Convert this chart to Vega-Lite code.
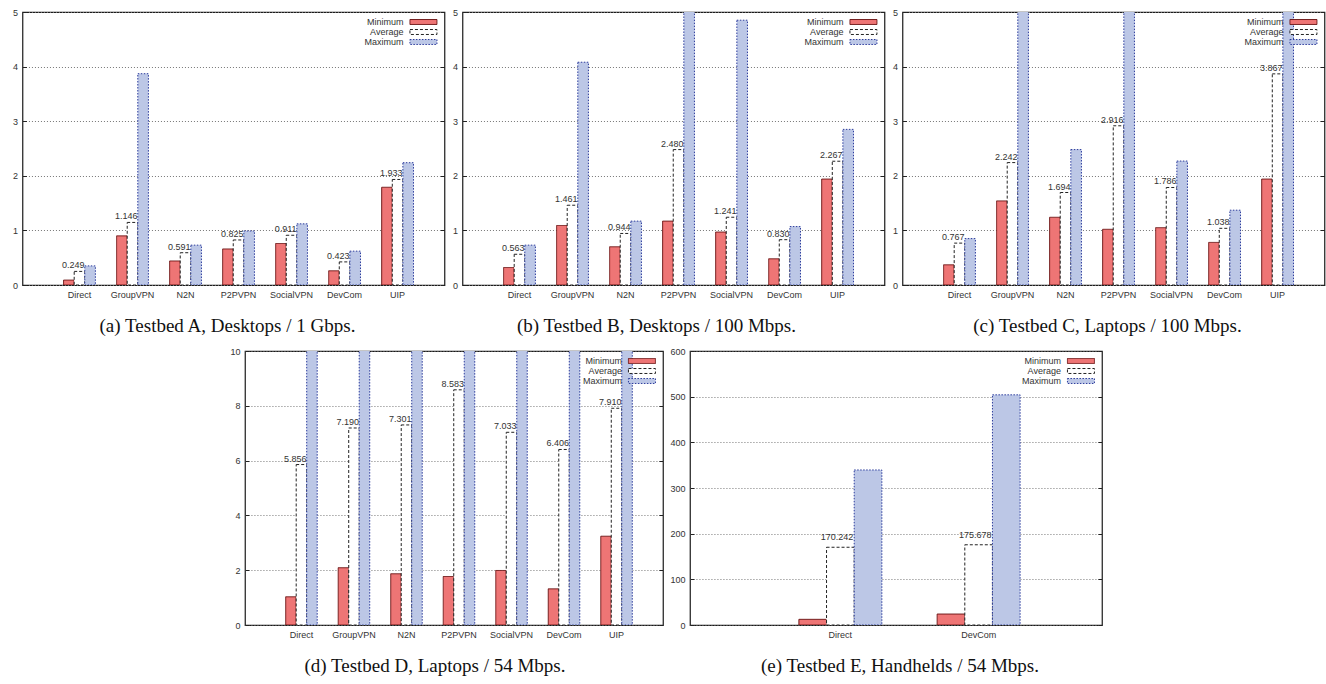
{
  "$schema": "https://vega.github.io/schema/vega-lite/v6.json",
  "padding": {"left": 11, "top": 7, "right": 0, "bottom": 0},
  "background": "white",
  "config": {
    "font": "Liberation Sans",
    "view": {"stroke": "#1a1a1a", "strokeWidth": 1.2},
    "axis": {"labelFont": "Liberation Sans", "labelFontSize": 9, "labelColor": "#333"},
    "axisY": {"grid": true, "gridDash": [1, 2], "gridColor": "#777", "gridOpacity": 1, "domain": false, "tickSize": -4, "tickColor": "#222", "labelPadding": 9},
    "axisX": {"grid": false, "ticks": false, "domain": false, "labelAngle": 0, "labelPadding": 5},
    "legend": {"orient": "top-right", "title": null, "labelFont": "Liberation Sans", "labelFontSize": 9, "labelColor": "#333", "labelAlign": "right", "labelOffset": -25, "symbolType": "M-3,-0.55H3V0.55H-3Z", "symbolSize": 81, "symbolStrokeWidth": 1, "rowPadding": 0, "offset": 5, "padding": 0},
    "title": {"orient": "bottom", "frame": "group", "anchor": "middle", "font": "Liberation Serif", "fontSize": 19, "fontWeight": "normal", "color": "#111", "offset": 18}
  },
  "datasets": {
    "a": [
      {"system": "Direct", "series": "Minimum", "value": 0.09}, {"system": "Direct", "series": "Average", "value": 0.249}, {"system": "Direct", "series": "Maximum", "value": 0.35},
      {"system": "GroupVPN", "series": "Minimum", "value": 0.90}, {"system": "GroupVPN", "series": "Average", "value": 1.146}, {"system": "GroupVPN", "series": "Maximum", "value": 3.87},
      {"system": "N2N", "series": "Minimum", "value": 0.44}, {"system": "N2N", "series": "Average", "value": 0.591}, {"system": "N2N", "series": "Maximum", "value": 0.73},
      {"system": "P2PVPN", "series": "Minimum", "value": 0.66}, {"system": "P2PVPN", "series": "Average", "value": 0.825}, {"system": "P2PVPN", "series": "Maximum", "value": 0.99},
      {"system": "SocialVPN", "series": "Minimum", "value": 0.76}, {"system": "SocialVPN", "series": "Average", "value": 0.911}, {"system": "SocialVPN", "series": "Maximum", "value": 1.12},
      {"system": "DevCom", "series": "Minimum", "value": 0.26}, {"system": "DevCom", "series": "Average", "value": 0.423}, {"system": "DevCom", "series": "Maximum", "value": 0.62},
      {"system": "UIP", "series": "Minimum", "value": 1.79}, {"system": "UIP", "series": "Average", "value": 1.933}, {"system": "UIP", "series": "Maximum", "value": 2.24}
    ],
    "b": [
      {"system": "Direct", "series": "Minimum", "value": 0.32}, {"system": "Direct", "series": "Average", "value": 0.563}, {"system": "Direct", "series": "Maximum", "value": 0.73},
      {"system": "GroupVPN", "series": "Minimum", "value": 1.09}, {"system": "GroupVPN", "series": "Average", "value": 1.461}, {"system": "GroupVPN", "series": "Maximum", "value": 4.08},
      {"system": "N2N", "series": "Minimum", "value": 0.70}, {"system": "N2N", "series": "Average", "value": 0.944}, {"system": "N2N", "series": "Maximum", "value": 1.17},
      {"system": "P2PVPN", "series": "Minimum", "value": 1.17}, {"system": "P2PVPN", "series": "Average", "value": 2.480}, {"system": "P2PVPN", "series": "Maximum", "value": 5.6},
      {"system": "SocialVPN", "series": "Minimum", "value": 0.97}, {"system": "SocialVPN", "series": "Average", "value": 1.241}, {"system": "SocialVPN", "series": "Maximum", "value": 4.85},
      {"system": "DevCom", "series": "Minimum", "value": 0.48}, {"system": "DevCom", "series": "Average", "value": 0.830}, {"system": "DevCom", "series": "Maximum", "value": 1.07},
      {"system": "UIP", "series": "Minimum", "value": 1.94}, {"system": "UIP", "series": "Average", "value": 2.267}, {"system": "UIP", "series": "Maximum", "value": 2.85}
    ],
    "c": [
      {"system": "Direct", "series": "Minimum", "value": 0.37}, {"system": "Direct", "series": "Average", "value": 0.767}, {"system": "Direct", "series": "Maximum", "value": 0.85},
      {"system": "GroupVPN", "series": "Minimum", "value": 1.54}, {"system": "GroupVPN", "series": "Average", "value": 2.242}, {"system": "GroupVPN", "series": "Maximum", "value": 5.6},
      {"system": "N2N", "series": "Minimum", "value": 1.24}, {"system": "N2N", "series": "Average", "value": 1.694}, {"system": "N2N", "series": "Maximum", "value": 2.48},
      {"system": "P2PVPN", "series": "Minimum", "value": 1.02}, {"system": "P2PVPN", "series": "Average", "value": 2.916}, {"system": "P2PVPN", "series": "Maximum", "value": 5.6},
      {"system": "SocialVPN", "series": "Minimum", "value": 1.05}, {"system": "SocialVPN", "series": "Average", "value": 1.786}, {"system": "SocialVPN", "series": "Maximum", "value": 2.27},
      {"system": "DevCom", "series": "Minimum", "value": 0.78}, {"system": "DevCom", "series": "Average", "value": 1.038}, {"system": "DevCom", "series": "Maximum", "value": 1.37},
      {"system": "UIP", "series": "Minimum", "value": 1.94}, {"system": "UIP", "series": "Average", "value": 3.867}, {"system": "UIP", "series": "Maximum", "value": 5.6}
    ],
    "d": [
      {"system": "Direct", "series": "Minimum", "value": 1.03}, {"system": "Direct", "series": "Average", "value": 5.856}, {"system": "Direct", "series": "Maximum", "value": 11},
      {"system": "GroupVPN", "series": "Minimum", "value": 2.09}, {"system": "GroupVPN", "series": "Average", "value": 7.190}, {"system": "GroupVPN", "series": "Maximum", "value": 11},
      {"system": "N2N", "series": "Minimum", "value": 1.87}, {"system": "N2N", "series": "Average", "value": 7.301}, {"system": "N2N", "series": "Maximum", "value": 11},
      {"system": "P2PVPN", "series": "Minimum", "value": 1.77}, {"system": "P2PVPN", "series": "Average", "value": 8.583}, {"system": "P2PVPN", "series": "Maximum", "value": 11},
      {"system": "SocialVPN", "series": "Minimum", "value": 1.99}, {"system": "SocialVPN", "series": "Average", "value": 7.033}, {"system": "SocialVPN", "series": "Maximum", "value": 11},
      {"system": "DevCom", "series": "Minimum", "value": 1.32}, {"system": "DevCom", "series": "Average", "value": 6.406}, {"system": "DevCom", "series": "Maximum", "value": 11},
      {"system": "UIP", "series": "Minimum", "value": 3.24}, {"system": "UIP", "series": "Average", "value": 7.910}, {"system": "UIP", "series": "Maximum", "value": 11}
    ],
    "e": [
      {"system": "Direct", "series": "Minimum", "value": 12.4}, {"system": "Direct", "series": "Average", "value": 170.242}, {"system": "Direct", "series": "Maximum", "value": 339.5},
      {"system": "DevCom", "series": "Minimum", "value": 24}, {"system": "DevCom", "series": "Average", "value": 175.678}, {"system": "DevCom", "series": "Maximum", "value": 504}
    ]
  },
  "resolve": {"scale": {"xOffset": "independent", "fill": "independent", "stroke": "independent", "strokeDash": "independent"}, "legend": {"fill": "independent", "stroke": "independent", "strokeDash": "independent"}},
  "bounds": "full",
  "center": true,
  "spacing": 9,
  "vconcat": [
    {
      "hconcat": [
        {
          "width": 422, "height": 273,
          "title": {"text": "(a) Testbed A, Desktops / 1 Gbps.", "dx": -6},
          "data": {"name": "a"},
          "encoding": {"x": {"field": "system", "type": "nominal", "sort": null, "title": null, "scale": {"paddingInner": 0, "paddingOuter": 0.48, "align": 0.6}}},
          "layer": [
            {"mark": {"type": "bar", "clip": true, "strokeWidth": 1},
             "encoding": {
               "xOffset": {"field": "series", "type": "nominal", "scale": {"domain": ["Minimum", "Average", "Maximum"], "paddingInner": 0, "paddingOuter": 1}},
               "y": {"field": "value", "type": "quantitative", "title": null, "scale": {"domain": [0, 5], "nice": false}, "axis": {"values": [0, 1, 2, 3, 4, 5]}},
               "fill": {"field": "series", "type": "nominal", "scale": {"domain": ["Minimum", "Average", "Maximum"], "range": ["#ee7575", "#ffffff", "#bcc7e6"]}},
               "stroke": {"field": "series", "type": "nominal", "scale": {"domain": ["Minimum", "Average", "Maximum"], "range": ["#6b1414", "#222222", "#2b3b9c"]}},
               "strokeDash": {"field": "series", "type": "nominal", "scale": {"domain": ["Minimum", "Average", "Maximum"], "range": [[1, 0], [3, 2], [1.5, 1.5]]}}
             }},
            {"transform": [{"filter": "datum.series === 'Average'"}],
             "mark": {"type": "text", "align": "right", "baseline": "bottom", "dx": 5, "dy": -1, "fontSize": 9, "color": "#333"},
             "encoding": {
               "xOffset": {"field": "series", "type": "nominal", "scale": {"domain": ["Minimum", "Average", "Maximum"], "paddingInner": 0, "paddingOuter": 1}},
               "y": {"field": "value", "type": "quantitative", "title": null, "axis": {"orient": "right", "labels": false, "grid": false, "values": [0, 1, 2, 3, 4, 5]}},
               "text": {"field": "value", "type": "quantitative", "format": ".3f"}
             }}
          ],
          "resolve": {"axis": {"y": "independent"}}
        },
        {
          "width": 422, "height": 273,
          "title": {"text": "(b) Testbed B, Desktops / 100 Mbps.", "dx": -17},
          "data": {"name": "b"},
          "encoding": {"x": {"field": "system", "type": "nominal", "sort": null, "title": null, "scale": {"paddingInner": 0, "paddingOuter": 0.48, "align": 0.6}}},
          "layer": [
            {"mark": {"type": "bar", "clip": true, "strokeWidth": 1},
             "encoding": {
               "xOffset": {"field": "series", "type": "nominal", "scale": {"domain": ["Minimum", "Average", "Maximum"], "paddingInner": 0, "paddingOuter": 1}},
               "y": {"field": "value", "type": "quantitative", "title": null, "scale": {"domain": [0, 5], "nice": false}, "axis": {"values": [0, 1, 2, 3, 4, 5]}},
               "fill": {"field": "series", "type": "nominal", "scale": {"domain": ["Minimum", "Average", "Maximum"], "range": ["#ee7575", "#ffffff", "#bcc7e6"]}},
               "stroke": {"field": "series", "type": "nominal", "scale": {"domain": ["Minimum", "Average", "Maximum"], "range": ["#6b1414", "#222222", "#2b3b9c"]}},
               "strokeDash": {"field": "series", "type": "nominal", "scale": {"domain": ["Minimum", "Average", "Maximum"], "range": [[1, 0], [3, 2], [1.5, 1.5]]}}
             }},
            {"transform": [{"filter": "datum.series === 'Average'"}],
             "mark": {"type": "text", "align": "right", "baseline": "bottom", "dx": 5, "dy": -1, "fontSize": 9, "color": "#333"},
             "encoding": {
               "xOffset": {"field": "series", "type": "nominal", "scale": {"domain": ["Minimum", "Average", "Maximum"], "paddingInner": 0, "paddingOuter": 1}},
               "y": {"field": "value", "type": "quantitative", "title": null, "axis": {"orient": "right", "labels": false, "grid": false, "values": [0, 1, 2, 3, 4, 5]}},
               "text": {"field": "value", "type": "quantitative", "format": ".3f"}
             }}
          ],
          "resolve": {"axis": {"y": "independent"}}
        },
        {
          "width": 422, "height": 273,
          "title": {"text": "(c) Testbed C, Laptops / 100 Mbps.", "dx": -6},
          "data": {"name": "c"},
          "encoding": {"x": {"field": "system", "type": "nominal", "sort": null, "title": null, "scale": {"paddingInner": 0, "paddingOuter": 0.48, "align": 0.6}}},
          "layer": [
            {"mark": {"type": "bar", "clip": true, "strokeWidth": 1},
             "encoding": {
               "xOffset": {"field": "series", "type": "nominal", "scale": {"domain": ["Minimum", "Average", "Maximum"], "paddingInner": 0, "paddingOuter": 1}},
               "y": {"field": "value", "type": "quantitative", "title": null, "scale": {"domain": [0, 5], "nice": false}, "axis": {"values": [0, 1, 2, 3, 4, 5]}},
               "fill": {"field": "series", "type": "nominal", "scale": {"domain": ["Minimum", "Average", "Maximum"], "range": ["#ee7575", "#ffffff", "#bcc7e6"]}},
               "stroke": {"field": "series", "type": "nominal", "scale": {"domain": ["Minimum", "Average", "Maximum"], "range": ["#6b1414", "#222222", "#2b3b9c"]}},
               "strokeDash": {"field": "series", "type": "nominal", "scale": {"domain": ["Minimum", "Average", "Maximum"], "range": [[1, 0], [3, 2], [1.5, 1.5]]}}
             }},
            {"transform": [{"filter": "datum.series === 'Average'"}],
             "mark": {"type": "text", "align": "right", "baseline": "bottom", "dx": 5, "dy": -1, "fontSize": 9, "color": "#333"},
             "encoding": {
               "xOffset": {"field": "series", "type": "nominal", "scale": {"domain": ["Minimum", "Average", "Maximum"], "paddingInner": 0, "paddingOuter": 1}},
               "y": {"field": "value", "type": "quantitative", "title": null, "axis": {"orient": "right", "labels": false, "grid": false, "values": [0, 1, 2, 3, 4, 5]}},
               "text": {"field": "value", "type": "quantitative", "format": ".3f"}
             }}
          ],
          "resolve": {"axis": {"y": "independent"}}
        }
      ],
      "spacing": 18,
      "bounds": "flush",
      "resolve": {"scale": {"xOffset": "independent", "fill": "independent", "stroke": "independent", "strokeDash": "independent"}, "legend": {"fill": "independent", "stroke": "independent", "strokeDash": "independent"}}
    },
    {
      "hconcat": [
        {
          "width": 418, "height": 274,
          "title": {"text": "(d) Testbed D, Laptops / 54 Mbps.", "dx": -19},
          "data": {"name": "d"},
          "encoding": {"x": {"field": "system", "type": "nominal", "sort": null, "title": null, "scale": {"paddingInner": 0, "paddingOuter": 0.48, "align": 0.6}}},
          "layer": [
            {"mark": {"type": "bar", "clip": true, "strokeWidth": 1},
             "encoding": {
               "xOffset": {"field": "series", "type": "nominal", "scale": {"domain": ["Minimum", "Average", "Maximum"], "paddingInner": 0, "paddingOuter": 1}},
               "y": {"field": "value", "type": "quantitative", "title": null, "scale": {"domain": [0, 10], "nice": false}, "axis": {"values": [0, 2, 4, 6, 8, 10]}},
               "fill": {"field": "series", "type": "nominal", "scale": {"domain": ["Minimum", "Average", "Maximum"], "range": ["#ee7575", "#ffffff", "#bcc7e6"]}},
               "stroke": {"field": "series", "type": "nominal", "scale": {"domain": ["Minimum", "Average", "Maximum"], "range": ["#6b1414", "#222222", "#2b3b9c"]}},
               "strokeDash": {"field": "series", "type": "nominal", "scale": {"domain": ["Minimum", "Average", "Maximum"], "range": [[1, 0], [3, 2], [1.5, 1.5]]}}
             }},
            {"transform": [{"filter": "datum.series === 'Average'"}],
             "mark": {"type": "text", "align": "right", "baseline": "bottom", "dx": 5, "dy": -1, "fontSize": 9, "color": "#333"},
             "encoding": {
               "xOffset": {"field": "series", "type": "nominal", "scale": {"domain": ["Minimum", "Average", "Maximum"], "paddingInner": 0, "paddingOuter": 1}},
               "y": {"field": "value", "type": "quantitative", "title": null, "axis": {"orient": "right", "labels": false, "grid": false, "values": [0, 2, 4, 6, 8, 10]}},
               "text": {"field": "value", "type": "quantitative", "format": ".3f"}
             }}
          ],
          "resolve": {"axis": {"y": "independent"}}
        },
        {
          "width": 412, "height": 274,
          "title": {"text": "(e) Testbed E, Handhelds / 54 Mbps.", "dx": 4},
          "data": {"name": "e"},
          "encoding": {"x": {"field": "system", "type": "nominal", "sort": null, "title": null, "scale": {"paddingInner": 0, "paddingOuter": 0.49, "align": 0.6}}},
          "layer": [
            {"mark": {"type": "bar", "clip": true, "strokeWidth": 1},
             "encoding": {
               "xOffset": {"field": "series", "type": "nominal", "scale": {"domain": ["Minimum", "Average", "Maximum"], "paddingInner": 0, "paddingOuter": 1}},
               "y": {"field": "value", "type": "quantitative", "title": null, "scale": {"domain": [0, 600], "nice": false}, "axis": {"values": [0, 100, 200, 300, 400, 500, 600]}},
               "fill": {"field": "series", "type": "nominal", "scale": {"domain": ["Minimum", "Average", "Maximum"], "range": ["#ee7575", "#ffffff", "#bcc7e6"]}},
               "stroke": {"field": "series", "type": "nominal", "scale": {"domain": ["Minimum", "Average", "Maximum"], "range": ["#6b1414", "#222222", "#2b3b9c"]}},
               "strokeDash": {"field": "series", "type": "nominal", "scale": {"domain": ["Minimum", "Average", "Maximum"], "range": [[1, 0], [3, 2], [1.5, 1.5]]}}
             }},
            {"transform": [{"filter": "datum.series === 'Average'"}],
             "mark": {"type": "text", "align": "right", "baseline": "bottom", "dx": 13, "dy": -5, "fontSize": 9, "color": "#333"},
             "encoding": {
               "xOffset": {"field": "series", "type": "nominal", "scale": {"domain": ["Minimum", "Average", "Maximum"], "paddingInner": 0, "paddingOuter": 1}},
               "y": {"field": "value", "type": "quantitative", "title": null, "axis": {"orient": "right", "labels": false, "grid": false, "values": [0, 100, 200, 300, 400, 500, 600]}},
               "text": {"field": "value", "type": "quantitative", "format": ".3f"}
             }}
          ],
          "resolve": {"axis": {"y": "independent"}}
        }
      ],
      "spacing": 27,
      "bounds": "flush",
      "resolve": {"scale": {"xOffset": "independent", "fill": "independent", "stroke": "independent", "strokeDash": "independent"}, "legend": {"fill": "independent", "stroke": "independent", "strokeDash": "independent"}}
    }
  ]
}
